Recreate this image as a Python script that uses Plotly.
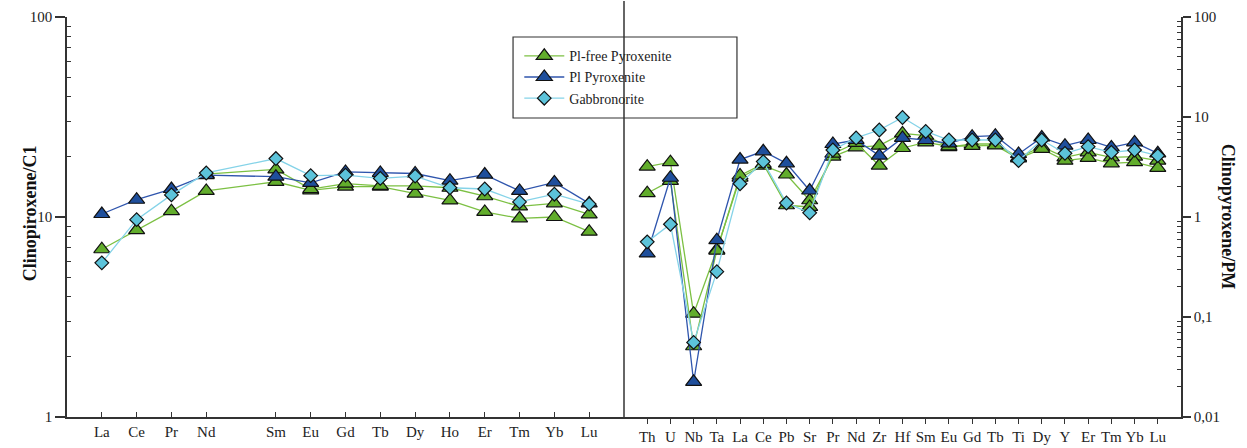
import plotly.graph_objects as go

# ---- element sequences -------------------------------------------------
# REE order; Pm kept as an empty slot so the spacing follows atomic number
ree = ["La", "Ce", "Pr", "Nd", "Pm", "Sm", "Eu", "Gd", "Tb", "Dy", "Ho", "Er", "Tm", "Yb", "Lu"]
spider = ["Th", "U", "Nb", "Ta", "La", "Ce", "Pb", "Sr", "Pr", "Nd", "Zr", "Hf",
          "Sm", "Eu", "Gd", "Tb", "Ti", "Dy", "Y", "Er", "Tm", "Yb", "Lu"]

# ---- clinopyroxene / C1 chondrite --------------------------------------
ree_plfree_a = [6.9, 8.6, 10.7, 13.5, None, 15.0, 13.6, 14.2, 14.2, 13.1, 12.1, 10.6, 9.85, 10.0, 8.45]
ree_plfree_b = [None, None, None, 16.4, None, 17.3, 13.8, 14.7, 14.3, 14.3, 14.0, 12.7, 11.3, 11.7, 10.3]
ree_pl = [10.35, 12.2, 13.8, 16.2, None, 15.9, 14.8, 16.8, 16.6, 16.5, 15.2, 16.3, 13.5, 14.9, 11.7]
ree_gabbro = [5.9, 9.7, 12.9, 16.6, None, 19.6, 16.1, 16.2, 15.6, 16.0, 14.0, 13.8, 11.9, 13.0, 11.6]

# ---- clinopyroxene / primitive mantle -----------------------------------
pm_plfree_a = [3.19, 3.53, 0.108, 0.47, 2.47, 3.27, 2.66, 1.47, 4.02, 4.97, 5.17, 6.85,
               6.5, 5.0, 5.37, 5.37, 3.95, 5.05, 3.95, 4.43, 3.95, 4.02, 3.66]
pm_plfree_b = [1.73, 2.3, 0.051, 0.46, 2.6, 3.4, 1.31, 1.26, 4.3, 5.5, 3.27, 4.9,
               5.57, 5.1, 5.15, 5.2, 3.85, 4.79, 3.66, 3.9, 3.44, 3.53, 3.1]
pm_pl = [0.432, 2.47, 0.0225, 0.586, 3.75, 4.54, 3.44, 1.84, 5.37, 5.89, 4.11, 6.17,
         5.89, 5.45, 6.35, 6.5, 4.27, 6.25, 5.17, 5.89, 4.97, 5.57, 4.33]
pm_gabbro = [0.564, 0.846, 0.0557, 0.284, 2.15, 3.58, 1.38, 1.1, 4.68, 6.17, 7.41, 9.89,
             7.17, 5.89, 5.89, 5.89, 3.66, 5.89, 4.33, 5.05, 4.43, 4.68, 4.11]

left_ticks = ["1", "10", "100"]
right_ticks = ["0,01", "0,1", "1", "10", "100"]

# ---- styles -----------------------------------------------------------
SERIF = "Liberation Serif"
AX = "#333333"
groups = {
    "Pl-free Pyroxenite": dict(line="#7cc043", fill="#62ad2c", symbol="triangle-up", size=14),
    "Pl Pyroxenite": dict(line="#2f55ad", fill="#1f4f9c", symbol="triangle-up", size=14),
    "Gabbronorite": dict(line="#85d3e8", fill="#5cc3da", symbol="diamond", size=10.5),
}

fig = go.Figure()


def add(x, y, group, xa, ya, legend):
    st = groups[group]
    fig.add_trace(go.Scatter(
        x=x, y=y, xaxis=xa, yaxis=ya, mode="lines+markers", name=group,
        legendgroup=group, showlegend=legend, connectgaps=True,
        line=dict(color=st["line"], width=1.3),
        marker=dict(symbol=st["symbol"], size=st["size"], color=st["fill"],
                    line=dict(color="#111111", width=1.2)),
    ))


ree_x = list(range(len(ree)))
spider_x = list(range(len(spider)))

add(ree_x, ree_plfree_a, "Pl-free Pyroxenite", "x", "y", True)
add(ree_x, ree_plfree_b, "Pl-free Pyroxenite", "x", "y", False)
add(ree_x, ree_pl, "Pl Pyroxenite", "x", "y", True)
add(ree_x, ree_gabbro, "Gabbronorite", "x", "y", True)

add(spider_x, pm_plfree_a, "Pl-free Pyroxenite", "x2", "y2", False)
add(spider_x, pm_plfree_b, "Pl-free Pyroxenite", "x2", "y2", False)
add(spider_x, pm_pl, "Pl Pyroxenite", "x2", "y2", False)
add(spider_x, pm_gabbro, "Gabbronorite", "x2", "y2", False)

ree_tick_x = [i for i, e in enumerate(ree) if e != "Pm"]
ree_tick_t = [e for e in ree if e != "Pm"]


def minor_vals(lo, hi):
    vals = []
    d = lo
    while d < hi:
        vals += [d * k for k in range(2, 10)]
        d *= 10
    return vals


tickfont = dict(family=SERIF, size=15, color="#222222")

fig.update_layout(
    width=1247, height=448,
    margin=dict(l=67, r=66, t=17, b=31, pad=0),
    paper_bgcolor="white", plot_bgcolor="white",
    font=dict(family=SERIF, size=15, color="#222222"),
    showlegend=True,
    legend=dict(x=0.406, y=0.942, xanchor="left", yanchor="top",
                bgcolor="rgba(0,0,0,0)", borderwidth=0, itemwidth=40,
                font=dict(family=SERIF, size=14, color="#222222"),
                tracegroupgap=0),
    xaxis=dict(domain=[0, 0.5], range=[-1, 15], anchor="y", automargin=False,
               tickmode="array", tickvals=ree_tick_x, ticktext=ree_tick_t, tickfont=tickfont,
               ticks="inside", ticklen=5, tickcolor=AX, tickwidth=1,
               showline=True, linecolor=AX, linewidth=1.5,
               showgrid=False, zeroline=False, fixedrange=True),
    yaxis=dict(domain=[0, 1], type="log", range=[0, 2], anchor="x", automargin=False,
               tickmode="array", tickvals=[1, 10, 100], ticktext=left_ticks, tickfont=tickfont,
               ticks="outside", ticklen=10, tickcolor=AX, tickwidth=1.5,
               minor=dict(tickmode="array", tickvals=minor_vals(1, 100),
                          ticks="inside", ticklen=4, tickcolor=AX, tickwidth=1),
               showline=True, linecolor=AX, linewidth=1.5,
               showgrid=False, zeroline=False),
    xaxis2=dict(domain=[0.5, 1], range=[-1, 23], anchor="y2", automargin=False,
                tickmode="array", tickvals=spider_x, ticktext=spider, tickfont=tickfont,
                ticks="outside", ticklen=5, tickcolor=AX, tickwidth=1,
                showline=True, linecolor=AX, linewidth=1.5,
                showgrid=False, zeroline=False),
    yaxis2=dict(domain=[0, 1], type="log", range=[-2, 2], anchor="x2", side="right",
                automargin=False,
                tickmode="array", tickvals=[0.01, 0.1, 1, 10, 100], ticktext=right_ticks,
                tickfont=tickfont,
                ticks="outside", ticklen=8, tickcolor=AX, tickwidth=1.5,
                minor=dict(tickmode="array", tickvals=minor_vals(0.01, 100),
                           ticks="inside", ticklen=4, tickcolor=AX, tickwidth=1),
                showline=True, linecolor=AX, linewidth=1.5,
                showgrid=False, zeroline=False),
)

# panel divider and legend frame
fig.add_shape(type="line", xref="paper", yref="paper", x0=0.5, x1=0.5, y0=0, y1=1.04,
              line=dict(color=AX, width=1.5))
fig.add_shape(type="rect", xref="paper", yref="paper", x0=0.4004, x1=0.6014, y0=0.7475, y1=0.95,
              line=dict(color=AX, width=1.2), fillcolor="white", layer="below")

fig.add_annotation(text="<b>Clinopiroxene/C1</b>", xref="paper", yref="paper",
                   x=-0.033, y=0.51, xanchor="center", yanchor="middle",
                   textangle=-90, showarrow=False,
                   font=dict(family=SERIF, size=18, color="#111111"))
fig.add_annotation(text="<b>Clinopyroxene/PM</b>", xref="paper", yref="paper",
                   x=1.0425, y=0.5, xanchor="center", yanchor="middle",
                   textangle=90, showarrow=False,
                   font=dict(family=SERIF, size=18, color="#111111"))

fig.write_html("out.html")
